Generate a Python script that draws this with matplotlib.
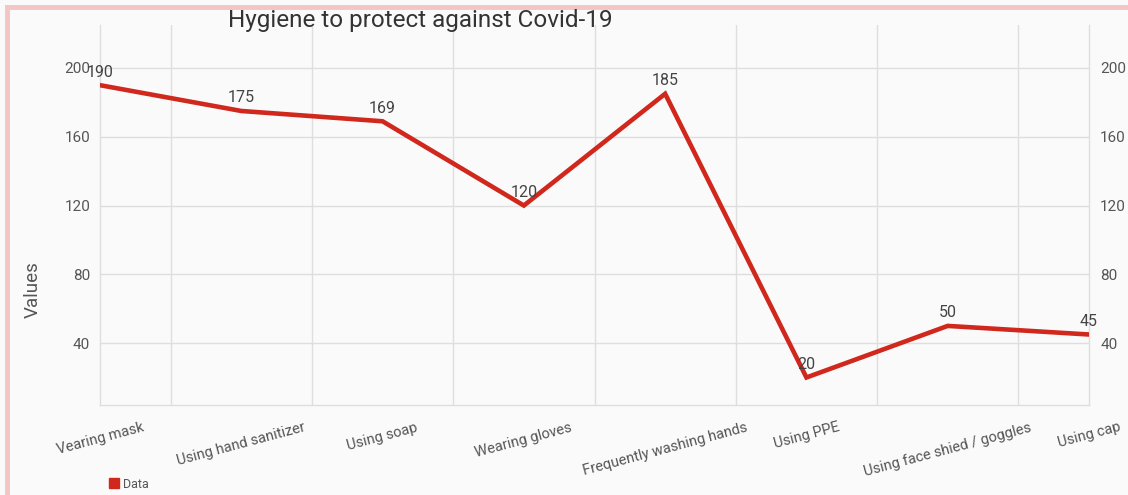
import matplotlib.pyplot as plt
from matplotlib.lines import Line2D
from matplotlib.patches import Patch

plt.rcParams['font.family'] = ['Roboto', 'DejaVu Sans']

# categories and values
categories = ['Vearing mask', 'Using hand sanitizer', 'Using soap', 'Wearing gloves',
              'Frequently washing hands', 'Using PPE', 'Using face shied / goggles', 'Using cap']
values = [190, 175, 169, 120, 185, 20, 50, 45]
y_ticks = [40, 80, 120, 160, 200]

line_color = '#d0281c'
grid_color = '#dedede'
text_color = '#555555'

fig = plt.figure(figsize=(11.28, 4.95), dpi=100, facecolor='#fafafa')
ax = fig.add_axes([100/1128, 1 - 405/495, (1089 - 100)/1128, (405 - 25)/495])
ax.set_facecolor('#fafafa')

x = list(range(len(categories)))
ax.plot(x, values, color=line_color, lw=3.3, solid_joinstyle='miter', zorder=3)

# value labels over each point
for xi, v in zip(x, values):
    ax.annotate(str(v), (xi, v), xytext=(0, 4), textcoords='offset points',
                ha='center', va='bottom', fontsize=11.5, color='#444444', zorder=4)

ax.set_xlim(0, 7)
ax.set_ylim(4, 225)

# grid: horizontal at ticks, vertical between categories
ax.set_yticks(y_ticks)
ax.grid(axis='y', color=grid_color, lw=1)
for gx in [i + 0.5 for i in range(len(categories) - 1)]:
    ax.axvline(gx, color=grid_color, lw=1, zorder=0)

for s in ax.spines.values():
    s.set_color(grid_color)
    s.set_linewidth(1)
ax.spines['top'].set_visible(False)

ax.set_xticks(x)
ax.set_xticklabels(categories, rotation=15, ha='center', va='top')
ax.tick_params(axis='x', length=0, pad=11, labelsize=10.5, labelcolor=text_color)
ax.tick_params(axis='y', length=0, pad=7, labelsize=11, labelcolor=text_color)

# right axis mirrors the left one
ax2 = ax.twinx()
ax2.set_ylim(ax.get_ylim())
ax2.set_yticks(y_ticks)
ax2.tick_params(axis='y', length=0, pad=8, labelsize=11, labelcolor=text_color)
for s in ax2.spines.values():
    s.set_visible(False)

fig.text(420/1128, 1 - 27/495, 'Hygiene to protect against Covid-19',
         ha='center', va='baseline', fontsize=17.5, color='#333333')
fig.text(33/1128, 1 - 290/495, 'Values', rotation=90, ha='center', va='center',
         fontsize=13.5, color=text_color)

fig.legend(handles=[Patch(color=line_color, label='Data')], loc='center left',
           bbox_to_anchor=(98/1128, 1 - 484/495), frameon=False, fontsize=9,
           handlelength=0.8, handleheight=0.8, handletextpad=0.3, labelcolor=text_color)

# pink frame on left and top edges
fig.add_artist(Line2D([7/1128, 7/1128], [0, 1 - 7/495], color='#f3c5c5', lw=3.5))
fig.add_artist(Line2D([7/1128, 1], [1 - 7/495, 1 - 7/495], color='#f3c5c5', lw=3.5))

fig.savefig('out.png', dpi=100, facecolor=fig.get_facecolor())
